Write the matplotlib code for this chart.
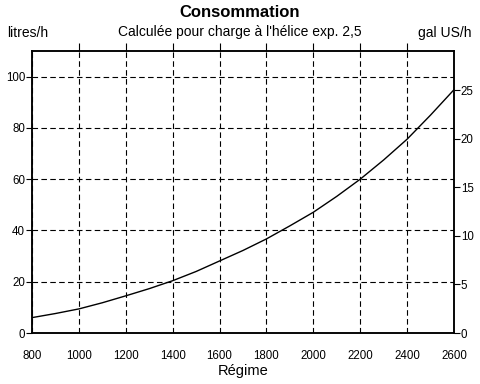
import matplotlib
matplotlib.use("Agg")
import matplotlib.pyplot as plt

# values
regime = [800, 900, 1000, 1100, 1200, 1300, 1400, 1500, 1600, 1700,
          1800, 1900, 2000, 2100, 2200, 2300, 2400, 2500, 2600]
litres = [6.0, 7.6, 9.4, 11.8, 14.5, 17.3, 20.4, 24.0, 28.1, 32.2,
          36.7, 41.8, 47.1, 53.3, 60.0, 67.5, 75.6, 85.0, 94.9]
x_ticks = [800, 1000, 1200, 1400, 1600, 1800, 2000, 2200, 2400, 2600]
l_ticks = [0, 20, 40, 60, 80, 100]
g_ticks = [0, 5, 10, 15, 20, 25]
LITRES_PER_GAL = 3.785

plt.rcParams['font.family'] = ['Liberation Sans', 'DejaVu Sans']

fig = plt.figure(figsize=(4.8, 3.84), dpi=100)
ax = fig.add_axes([0.0667, 0.1328, 0.8791, 0.7344])

ax.plot(regime, litres, color='black', lw=1.0)

ax.set_xlim(800, 2600)
ax.set_ylim(0, 110)
ax.set_xticks(x_ticks)
ax.set_yticks(l_ticks)
ax.grid(True, color='black', ls=(0, (5, 3)), lw=0.8)

for s in ax.spines.values():
    s.set_linewidth(1.1)

ax.tick_params(axis='x', which='both', bottom=False, top=True, direction='out',
               length=6, width=0.8, labelsize=8.3, pad=6)
ax.tick_params(axis='y', direction='out', length=4, width=0.8, labelsize=8.3, pad=1)
# no top stubs at the two ends
xt = ax.xaxis.get_major_ticks()
xt[0].tick2line.set_visible(False)
xt[-1].tick2line.set_visible(False)

# right axis in US gallons
ax2 = ax.twinx()
ax2.set_ylim(0, 110 / LITRES_PER_GAL)
ax2.set_yticks(g_ticks)
ax2.tick_params(axis='y', direction='out', length=4, width=0.8, labelsize=8.3, pad=1)
for s in ax2.spines.values():
    s.set_linewidth(1.1)

ax.set_xlabel('Régime', fontsize=10.5, labelpad=2)

fig.text(0.5, 0.968, 'Consommation', ha='center', va='center',
         fontsize=12, fontweight='bold')
fig.text(0.5, 0.917, "Calculée pour charge à l'hélice exp. 2,5", ha='center',
         va='center', fontsize=10)
fig.text(0.014, 0.915, 'litres/h', ha='left', va='center', fontsize=10)
fig.text(0.983, 0.915, 'gal US/h', ha='right', va='center', fontsize=10)

fig.savefig('out.png', dpi=100)
